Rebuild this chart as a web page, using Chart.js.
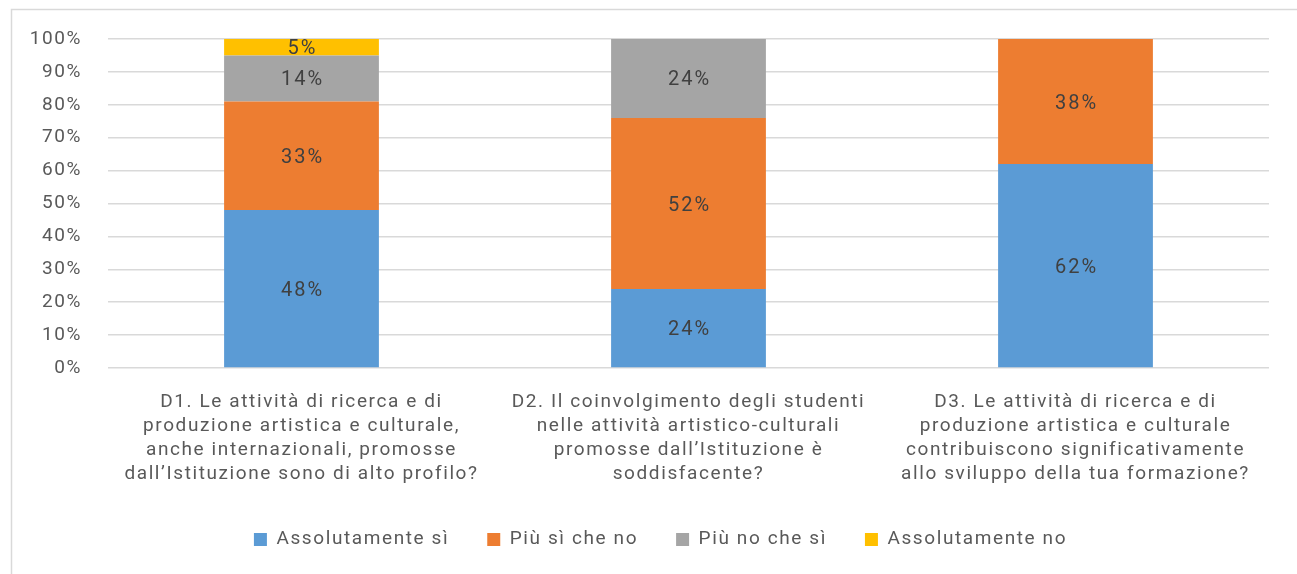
<!DOCTYPE html>
<html lang="it">
<head>
    <meta charset="UTF-8">
    <title>Attività di ricerca e produzione artistica</title>
    <script src="https://cdn.jsdelivr.net/npm/chart.js@4.4.0/dist/chart.umd.min.js"></script>
    <style>
        html, body { margin: 0; padding: 0; background: #fff; }
        #wrap { width: 1297px; height: 574px; }
    </style>
</head>
<body>
    <div id="wrap"><canvas id="myChart" width="1297" height="574"></canvas></div>

    <script>
        // categories (wrapped as in the original)
        var questions = [
            ["D1. Le attività di ricerca e di", "produzione artistica e culturale,", "anche internazionali, promosse", "dall’Istituzione sono di alto profilo?"],
            ["D2. Il coinvolgimento degli studenti", "nelle attività artistico-culturali", "promosse dall’Istituzione è", "soddisfacente?"],
            ["D3. Le attività di ricerca e di", "produzione artistica e culturale", "contribuiscono significativamente", "allo sviluppo della tua formazione?"]
        ];

        // series values, in percent
        var assolutamenteSi = [48, 24, 62];
        var piuSiCheNo = [33, 52, 38];
        var piuNoCheSi = [14, 24, 0];
        var assolutamenteNo = [5, 0, 0];

        var seriesNames = ["Assolutamente sì", "Più sì che no", "Più no che sì", "Assolutamente no"];
        var colors = ["#5B9BD5", "#ED7D31", "#A5A5A5", "#FFC000"];

        var FONT = "Roboto, 'Liberation Sans', sans-serif";
        var SPACING = "1.6px";

        // the original text is set wide; canvas letterSpacing gets reset on resize, so set it each time
        var spacingPlugin = {
            id: "spacing",
            beforeUpdate: function (chart) { chart.ctx.letterSpacing = SPACING; },
            beforeDraw: function (chart) { chart.ctx.letterSpacing = SPACING; },
            // legend in the original sits a bit right of the canvas centre
            afterLayout: function (chart) { chart.legend.left = 52; }
        };

        // light frame round the chart (top and left edges only are visible)
        var framePlugin = {
            id: "frame",
            beforeDraw: function (chart) {
                var ctx = chart.ctx;
                ctx.save();
                ctx.strokeStyle = "#d9d9d9";
                ctx.lineWidth = 1.5;
                ctx.beginPath();
                ctx.moveTo(11.5, chart.height);
                ctx.lineTo(11.5, 9.5);
                ctx.lineTo(chart.width, 9.5);
                ctx.stroke();
                ctx.restore();
            }
        };

        // value labels in the middle of each segment
        var labelPlugin = {
            id: "segLabels",
            afterDatasetsDraw: function (chart) {
                var ctx = chart.ctx;
                ctx.save();
                ctx.font = "20px " + FONT;
                ctx.letterSpacing = "2px";
                ctx.fillStyle = "#404040";
                ctx.textAlign = "center";
                ctx.textBaseline = "middle";
                chart.data.datasets.forEach(function (ds, i) {
                    var meta = chart.getDatasetMeta(i);
                    meta.data.forEach(function (bar, j) {
                        var v = ds.data[j];
                        if (!v) return;
                        ctx.fillText(v + "%", bar.x + 1, (bar.y + bar.base) / 2 + 2);
                    });
                });
                ctx.restore();
            }
        };

        var myChart = new Chart("myChart", {
            type: "bar",
            data: {
                labels: questions,
                datasets: [
                    { label: seriesNames[0], data: assolutamenteSi, backgroundColor: colors[0] },
                    { label: seriesNames[1], data: piuSiCheNo, backgroundColor: colors[1] },
                    { label: seriesNames[2], data: piuNoCheSi, backgroundColor: colors[2] },
                    { label: seriesNames[3], data: assolutamenteNo, backgroundColor: colors[3] }
                ]
            },
            options: {
                responsive: false,
                animation: false,
                layout: { padding: { left: 0, top: 39, right: 28, bottom: 15 } },
                datasets: { bar: { barPercentage: 0.4, categoryPercentage: 1.0 } },
                scales: {
                    x: {
                        stacked: true,
                        grid: { display: false },
                        border: { display: false },
                        ticks: {
                            color: "#595959",
                            font: { family: FONT, size: 19, lineHeight: 1.263 },
                            padding: 14,
                            maxRotation: 0,
                            autoSkip: false
                        },
                        afterFit: function (s) { s.height = 124; }
                    },
                    y: {
                        stacked: true,
                        min: 0,
                        max: 100,
                        grid: { color: "#d9d9d9", lineWidth: 1.5, drawTicks: false },
                        border: { display: false },
                        ticks: {
                            stepSize: 10,
                            color: "#595959",
                            font: { family: FONT, size: 19 },
                            padding: 26,
                            callback: function (v) { return v + "%"; }
                        },
                        afterFit: function (s) { s.width = 108; }
                    }
                },
                plugins: {
                    legend: {
                        position: "bottom",
                        labels: {
                            color: "#595959",
                            font: { family: FONT, size: 19 },
                            boxWidth: 13,
                            boxHeight: 13,
                            padding: 38
                        }
                    },
                    tooltip: { enabled: false }
                }
            },
            plugins: [spacingPlugin, framePlugin, labelPlugin]
        });
    </script>
</body>
</html>
